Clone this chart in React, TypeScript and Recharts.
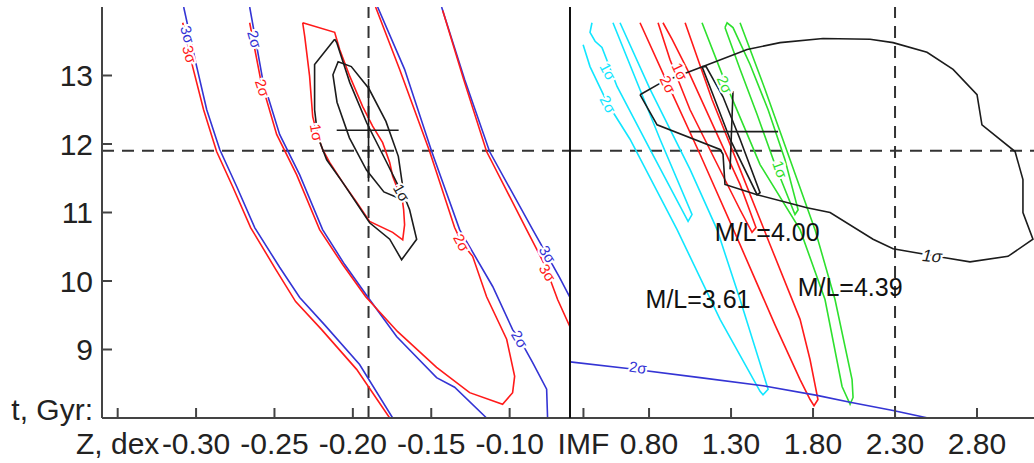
import React from 'react';
import {
	ComposedChart,
	Line,
	ReferenceDot,
	ReferenceLine,
	XAxis,
	YAxis,
} from 'recharts';

type Pair = [number, number];

const ageTicks = [8, 9, 10, 11, 12, 13];
const zTicks = [-0.35, -0.3, -0.25, -0.2, -0.15, -0.1];
const imfTicks = [0.4, 0.8, 1.3, 1.8, 2.3, 2.8];

// left panel: Z (dex) vs age (Gyr)
const zBlue3L: Pair[] = [[-0.3079, 14.0], [-0.2996, 13.13], [-0.2932, 12.5], [-0.2849, 11.92], [-0.2741, 11.38], [-0.2626, 10.78], [-0.2467, 10.2], [-0.2339, 9.76], [-0.218, 9.36], [-0.1957, 8.78], [-0.1746, 8.0]];
const zRed3L: Pair[] = [[-0.3085, 13.77], [-0.3022, 13.13], [-0.2952, 12.5], [-0.2869, 11.89], [-0.2767, 11.38], [-0.2652, 10.78], [-0.2492, 10.17], [-0.2365, 9.7], [-0.2199, 9.29], [-0.1976, 8.71], [-0.1765, 8.0]];
const zBlue2L: Pair[] = [[-0.2658, 14.0], [-0.2575, 12.94], [-0.2467, 12.14], [-0.2339, 11.55], [-0.2193, 10.75], [-0.2052, 10.24], [-0.1906, 9.77], [-0.1721, 9.19], [-0.1466, 8.59], [-0.1351, 8.45], [-0.1147, 8.0]];
const zRed2: Pair[] = [[-0.2658, 13.77], [-0.2588, 12.94], [-0.2486, 12.14], [-0.2358, 11.55], [-0.2212, 10.75], [-0.2065, 10.24], [-0.1918, 9.77], [-0.1714, 9.26], [-0.1466, 8.74], [-0.1255, 8.37], [-0.1045, 8.2], [-0.0981, 8.37], [-0.0968, 8.61], [-0.1019, 9.15], [-0.1147, 9.77], [-0.1236, 10.36], [-0.1306, 10.56], [-0.1351, 10.78], [-0.151, 11.89], [-0.1702, 13.09], [-0.1855, 14.0]];
const zBlue2R: Pair[] = [[-0.1842, 14.0], [-0.167, 13.09], [-0.1497, 11.89], [-0.1319, 10.75], [-0.1108, 9.92], [-0.0981, 9.29], [-0.0936, 9.15], [-0.0853, 8.81], [-0.0764, 8.42], [-0.0758, 8.0]];
const zBlue3R: Pair[] = [[-0.1434, 14.0], [-0.1287, 12.94], [-0.1128, 11.89], [-0.0853, 10.75], [-0.0764, 10.39], [-0.0681, 10.05], [-0.0617, 9.77]];
const zRed3R: Pair[] = [[-0.1427, 13.95], [-0.1293, 12.94], [-0.1147, 11.89], [-0.0892, 10.75], [-0.0777, 10.24], [-0.0694, 9.73], [-0.0617, 9.34]];
const zRed1: Pair[] = [[-0.232, 13.77], [-0.2116, 13.63], [-0.2084, 13.38], [-0.202, 12.99], [-0.1938, 12.55], [-0.1874, 12.26], [-0.181, 12.02], [-0.1765, 11.73], [-0.1746, 11.53], [-0.1721, 11.38], [-0.1689, 11.26], [-0.1676, 11.04], [-0.167, 10.82], [-0.1682, 10.6], [-0.1746, 10.71], [-0.1893, 10.87], [-0.1976, 11.15], [-0.2065, 11.44], [-0.2148, 11.73], [-0.2193, 11.92], [-0.2231, 12.17], [-0.2256, 12.4], [-0.2276, 12.99], [-0.2307, 13.57], [-0.232, 13.77]];
const zBlack1: Pair[] = [[-0.2116, 13.53], [-0.2244, 13.16], [-0.2244, 12.5], [-0.2224, 12.11], [-0.2167, 11.77], [-0.2065, 11.44], [-0.1893, 10.85], [-0.1765, 10.61], [-0.1689, 10.31], [-0.1593, 10.61], [-0.1638, 11.04], [-0.1657, 11.15], [-0.1689, 11.29], [-0.1721, 11.44], [-0.1784, 11.73], [-0.1912, 12.31], [-0.202, 12.9], [-0.2103, 13.48], [-0.2116, 13.53]];
const zEllipse: Pair[] = [[-0.1717, 11.22], [-0.1684, 11.41], [-0.171, 11.82], [-0.1789, 12.33], [-0.1898, 12.81], [-0.201, 13.13], [-0.2094, 13.2], [-0.2127, 13.01], [-0.2101, 12.61], [-0.2022, 12.09], [-0.1913, 11.62], [-0.1802, 11.3], [-0.1717, 11.22]];
const zCrossH: Pair[] = [[-0.2103, 12.2], [-0.1708, 12.2]];
const zCrossV: Pair[] = [[-0.19, 12.95], [-0.19, 11.45]];

// right panel: IMF slope vs age (Gyr)
const iBlack1: Pair[] = [[0.745, 12.72], [0.885, 12.91], [1.129, 13.13], [1.398, 13.38], [1.599, 13.48], [1.861, 13.54], [2.148, 13.53], [2.288, 13.48], [2.495, 13.34], [2.654, 13.09], [2.8, 12.72], [2.83, 12.28], [3.032, 11.89], [3.08, 11.48], [3.08, 11.0], [3.141, 10.61], [2.989, 10.36], [2.757, 10.28], [2.605, 10.34], [2.41, 10.42], [2.288, 10.47], [2.166, 10.61], [1.904, 11.0], [1.763, 11.07], [1.459, 11.26], [1.263, 11.41], [1.251, 11.85], [1.233, 11.92], [0.849, 12.28], [0.745, 12.72]];
const iBlackNarrow: Pair[] = [[1.123, 13.13], [1.19, 12.72], [1.294, 12.07], [1.459, 11.26], [1.477, 11.29], [1.355, 12.07], [1.251, 12.69], [1.148, 13.13], [1.123, 13.13]];
const iCrossH: Pair[] = [[1.05, 12.18], [1.587, 12.18]];
const iCrossV: Pair[] = [[1.312, 12.77], [1.294, 11.63]];
const iBlue2: Pair[] = [[0.318, 8.82], [0.684, 8.72], [1.111, 8.59], [1.495, 8.47], [1.824, 8.33], [2.026, 8.23], [2.288, 8.11], [2.501, 8.0]];
const iCyan2: Pair[] = [[0.398, 13.45], [0.44, 13.13], [0.55, 12.58], [0.684, 12.07], [0.971, 10.75], [1.233, 9.44], [1.477, 8.39], [1.495, 8.34], [1.526, 8.42], [1.355, 9.73], [1.215, 10.75], [1.05, 11.63], [0.806, 12.8], [0.623, 13.77]];
const iCyan1: Pair[] = [[0.452, 13.77], [0.44, 13.63], [0.471, 13.5], [0.513, 13.41], [0.605, 12.84], [0.806, 11.92], [1.038, 10.87], [1.062, 10.97], [0.867, 12.07], [0.58, 13.77]];
const iRed2: Pair[] = [[0.745, 13.77], [0.91, 12.9], [1.111, 11.85], [1.355, 10.53], [1.568, 9.36], [1.721, 8.56], [1.782, 8.27], [1.806, 8.18], [1.83, 8.27], [1.782, 8.85], [1.721, 9.44], [1.538, 10.53], [1.355, 11.63], [1.184, 12.65], [1.02, 13.77]];
const iRed1: Pair[] = [[0.855, 13.77], [0.928, 13.23], [1.05, 12.5], [1.202, 11.77], [1.355, 11.04], [1.428, 10.71], [1.452, 10.78], [1.355, 11.41], [1.202, 12.21], [1.05, 13.01], [0.94, 13.53], [0.885, 13.77]];
const iGreen2: Pair[] = [[1.123, 13.77], [1.263, 12.91], [1.477, 11.7], [1.721, 10.75], [1.873, 9.73], [1.977, 8.46], [2.026, 8.2], [2.044, 8.3], [2.038, 8.56], [1.934, 9.73], [1.812, 10.75], [1.66, 11.77], [1.507, 12.8], [1.355, 13.77]];
const iGreen1: Pair[] = [[1.263, 13.7], [1.355, 13.09], [1.459, 12.43], [1.568, 11.7], [1.69, 10.97], [1.709, 11.04], [1.629, 11.77], [1.526, 12.5], [1.416, 13.16], [1.312, 13.7], [1.276, 13.77], [1.263, 13.7]];

const RED = '#ff1a1a';
const BLUE = '#3434d4';
const CYAN = '#12e6ff';
const GREEN = '#2ee02e';
const BLACK = '#1c1c1c';

const leftSeries = [
	{ d: zBlue3L, c: BLUE }, { d: zRed3L, c: RED },
	{ d: zBlue2L, c: BLUE }, { d: zRed2, c: RED },
	{ d: zBlue2R, c: BLUE }, { d: zBlue3R, c: BLUE }, { d: zRed3R, c: RED },
	{ d: zRed1, c: RED }, { d: zBlack1, c: BLACK }, { d: zEllipse, c: BLACK },
	{ d: zCrossH, c: BLACK }, { d: zCrossV, c: BLACK },
];
const rightSeries = [
	{ d: iCyan2, c: CYAN }, { d: iCyan1, c: CYAN },
	{ d: iRed2, c: RED }, { d: iRed1, c: RED },
	{ d: iGreen2, c: GREEN }, { d: iGreen1, c: GREEN },
	{ d: iBlue2, c: BLUE }, { d: iBlack1, c: BLACK }, { d: iBlackNarrow, c: BLACK },
	{ d: iCrossH, c: BLACK }, { d: iCrossV, c: BLACK },
];

// contour labels: [x, y, text, colour, angle]
const leftLabels: [number, number, string, string, number][] = [
	[-0.3054, 13.6, '3σ', BLUE, 74], [-0.3041, 13.31, '3σ', RED, 74],
	[-0.2626, 13.53, '2σ', BLUE, 74], [-0.2575, 12.82, '2σ', RED, 72],
	[-0.2231, 12.17, '1σ', RED, 80], [-0.1689, 11.29, '1σ', BLACK, 60],
	[-0.1306, 10.56, '2σ', RED, 62], [-0.0936, 9.15, '2σ', BLUE, 60],
	[-0.0758, 10.39, '3σ', BLUE, 58], [-0.0758, 10.12, '3σ', RED, 58],
];
const rightLabels: [number, number, string, string, number][] = [
	[0.55, 13.06, '1σ', CYAN, 62], [0.55, 12.58, '2σ', CYAN, 62],
	[0.989, 13.06, '1σ', RED, 65], [0.916, 12.87, '2σ', RED, 65],
	[1.263, 12.87, '2σ', GREEN, 67], [1.599, 11.63, '1σ', GREEN, 70],
	[2.526, 10.36, '1σ', BLACK, 5], [0.733, 8.74, '2σ', BLUE, 8],
];
const mlLabels: [number, number, string][] = [
	[1.52, 10.72, 'M/L=4.00'], [1.099, 9.73, 'M/L=3.61'], [2.026, 9.91, 'M/L=4.39'],
];

const FONT = '"Liberation Sans", Arial, sans-serif';
const axisLine = { stroke: '#444', strokeWidth: 2 };
const topLine = { stroke: '#888', strokeWidth: 3 };

const toPts = (a: Pair[]) => a.map(([x, y]) => ({ x, y }));

function XTick(props: any) {
	const v = props.payload.value;
	let text = v.toFixed(2);
	if (v === -0.35) text = 'Z, dex';
	if (v === 0.4) text = 'IMF';
	return (
		<text x={props.x} y={props.y} dy="0.71em" textAnchor="middle" fontSize={30} fontFamily={FONT} fill="#222">
			{text}
		</text>
	);
}

function YTick(props: any) {
	const v = props.payload.value;
	return (
		<text x={props.x} y={props.y + (v === 8 ? -9 : 0)} dy="0.36em" textAnchor="end" fontSize={30} fontFamily={FONT} fill="#222">
			{v === 8 ? 't, Gyr:' : v}
		</text>
	);
}

const sigmaShape = (text: string, color: string, angle: number) => (p: any) => (
	<text
		x={p.cx}
		y={p.cy}
		transform={`rotate(${angle} ${p.cx} ${p.cy})`}
		textAnchor="middle"
		dominantBaseline="central"
		fontSize={color === BLACK && angle < 10 ? 17 : 15}
		fontStyle={color === BLACK && angle < 10 ? 'italic' : 'normal'}
		fontFamily={FONT}
		fill={color}
		stroke="#fff"
		strokeWidth={4}
		paintOrder="stroke"
	>
		{text}
	</text>
);

const mlShape = (text: string) => (p: any) => (
	<text x={p.cx} y={p.cy} textAnchor="middle" dominantBaseline="central" fontSize={25} fontFamily={FONT} fill="#111">
		{text}
	</text>
);

function Frame(ticks: number[], domain: [number, number], leftWidth: number, showY: boolean) {
	return [
		<XAxis key="xb" xAxisId="b" dataKey="x" type="number" domain={domain} allowDataOverflow ticks={ticks} interval={0} height={45} tickSize={-10} tickMargin={25} tick={<XTick />} axisLine={axisLine} tickLine={axisLine} />,
		<XAxis key="xt" xAxisId="t" orientation="top" dataKey="x" type="number" domain={domain} allowDataOverflow ticks={ticks} interval={0} height={0} tickSize={-10} tick={false} axisLine={topLine} tickLine={axisLine} />,
		<YAxis key="yl" yAxisId="l" type="number" domain={[8, 14]} allowDataOverflow ticks={ageTicks} interval={0} width={leftWidth} tickSize={-10} tickMargin={19} tick={showY ? <YTick /> : false} axisLine={{ stroke: showY ? '#444' : '#111', strokeWidth: 2 }} tickLine={axisLine} />,
		<YAxis key="yr" yAxisId="r" orientation="right" type="number" domain={[8, 14]} allowDataOverflow ticks={ageTicks} interval={0} width={0} tickSize={-10} tick={false} axisLine={{ stroke: '#111', strokeWidth: 2 }} tickLine={axisLine} />,
	];
}

function renderLines(series: { d: Pair[]; c: string }[]) {
	return series.map((s, i) => (
		<Line
			key={`s${i}`}
			xAxisId="b"
			yAxisId="l"
			data={toPts(s.d)}
			dataKey="y"
			type="linear"
			stroke={s.c}
			strokeWidth={1.6}
			dot={false}
			activeDot={false}
			isAnimationActive={false}
		/>
	));
}

export default function App() {
	return (
		<div style={{ position: 'fixed', left: 0, top: 0, width: 1034, height: 463, overflow: 'hidden', background: '#fff' }}>
			<div style={{ position: 'absolute', left: 0, top: 0 }}>
				<ComposedChart width={575} height={463} margin={{ top: 7, right: 5, bottom: 0, left: 0 }}>
					{Frame(zTicks, [-0.36, -0.0615], 102, true)}
					<ReferenceLine xAxisId="b" yAxisId="l" y={11.9} stroke="#333" strokeWidth={2} strokeDasharray="12 8" />
					<ReferenceLine xAxisId="b" yAxisId="l" x={-0.19} stroke="#333" strokeWidth={2} strokeDasharray="12 8" />
					{renderLines(leftSeries)}
					{leftLabels.map(([x, y, t, c, a], i) => (
						<ReferenceDot key={`l${i}`} xAxisId="b" yAxisId="l" x={x} y={y} r={0} shape={sigmaShape(t, c, a)} />
					))}
				</ComposedChart>
			</div>
			<div style={{ position: 'absolute', left: 535, top: 0 }}>
				<ComposedChart width={510} height={463} margin={{ top: 7, right: 5, bottom: 0, left: 0 }}>
					{Frame(imfTicks, [0.318, 3.184], 35, false)}
					<ReferenceLine xAxisId="b" yAxisId="l" y={11.9} stroke="#333" strokeWidth={2} strokeDasharray="12 8" />
					<ReferenceLine xAxisId="b" yAxisId="l" x={2.3} stroke="#333" strokeWidth={2} strokeDasharray="12 8" />
					{renderLines(rightSeries)}
					{rightLabels.map(([x, y, t, c, a], i) => (
						<ReferenceDot key={`r${i}`} xAxisId="b" yAxisId="l" x={x} y={y} r={0} shape={sigmaShape(t, c, a)} />
					))}
					{mlLabels.map(([x, y, t], i) => (
						<ReferenceDot key={`m${i}`} xAxisId="b" yAxisId="l" x={x} y={y} r={0} shape={mlShape(t)} />
					))}
				</ComposedChart>
			</div>
		</div>
	);
}
